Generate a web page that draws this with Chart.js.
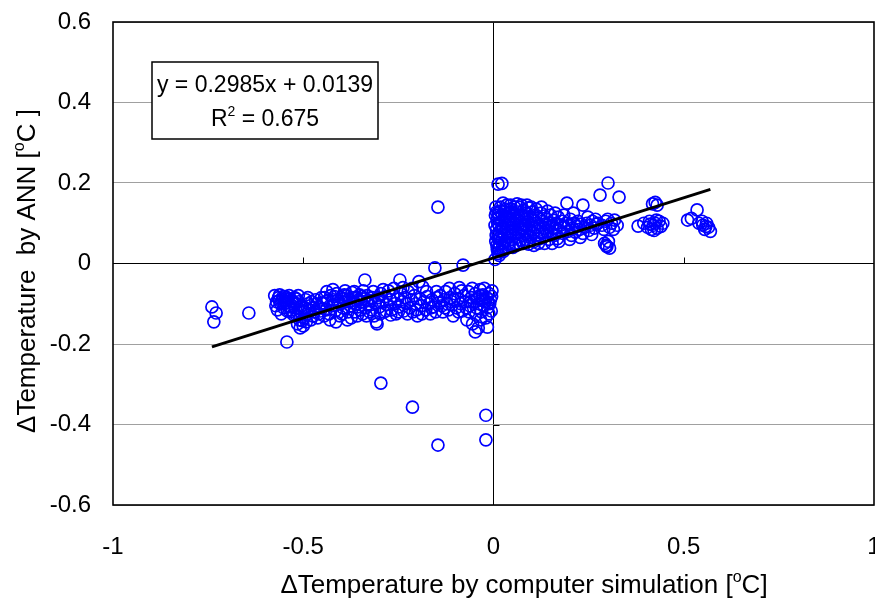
<!DOCTYPE html>
<html>
<head>
<meta charset="utf-8">
<script src="https://cdn.jsdelivr.net/npm/chart.js@4"></script>
<style>
  html, body { margin: 0; padding: 0; background: #fff; }
  #wrap { width: 875px; height: 601px; }
</style>
</head>
<body>
<div id="wrap"><canvas id="myChart" width="875" height="601"></canvas></div>
<script>
// tick labels
const xTickLabels = ['-1', '-0.5', '0', '0.5', '1'];
const yTickLabels = ['-0.6', '-0.4', '-0.2', '0', '0.2', '0.4', '0.6'];

// points, [simulation, ANN]
const farLeft = [
  [-0.740, -0.108], [-0.729, -0.123], [-0.735, -0.145], [-0.643, -0.123], [-0.543, -0.195]
];
const leftGroup = [
  [-0.575, -0.080], [-0.570, -0.095], [-0.565, -0.085], [-0.560, -0.100], [-0.555, -0.090],
  [-0.552, -0.110], [-0.548, -0.082], [-0.545, -0.098], [-0.540, -0.088], [-0.538, -0.105],
  [-0.535, -0.120], [-0.530, -0.092], [-0.527, -0.100], [-0.523, -0.085], [-0.520, -0.110],
  [-0.517, -0.130], [-0.515, -0.150], [-0.512, -0.095], [-0.510, -0.140], [-0.507, -0.120],
  [-0.505, -0.105], [-0.500, -0.155], [-0.497, -0.135], [-0.495, -0.110], [-0.492, -0.145],
  [-0.490, -0.125], [-0.487, -0.100], [-0.485, -0.115], [-0.480, -0.140], [-0.478, -0.095],
  [-0.475, -0.130], [-0.472, -0.110], [-0.470, -0.120], [-0.465, -0.100], [-0.462, -0.135],
  [-0.458, -0.108], [-0.455, -0.118], [-0.450, -0.098], [-0.568, -0.115], [-0.558, -0.125],
  [-0.542, -0.118], [-0.533, -0.108], [-0.525, -0.128], [-0.562, -0.078], [-0.553, -0.082],
  [-0.547, -0.092], [-0.537, -0.080], [-0.528, -0.095], [-0.518, -0.088], [-0.508, -0.160],
  [-0.503, -0.142], [-0.493, -0.090], [-0.572, -0.105], [-0.563, -0.092], [-0.550, -0.100],
  [-0.544, -0.085], [-0.532, -0.115], [-0.522, -0.098], [-0.513, -0.080], [-0.498, -0.120],
  [-0.488, -0.085], [-0.482, -0.105], [-0.468, -0.090], [-0.460, -0.125], [-0.452, -0.085]
];
const midGroup = [
  [-0.448, -0.100], [-0.444, -0.085], [-0.440, -0.115], [-0.436, -0.092], [-0.432, -0.125],
  [-0.428, -0.080], [-0.424, -0.105], [-0.420, -0.090], [-0.416, -0.118], [-0.412, -0.075],
  [-0.408, -0.098], [-0.404, -0.130], [-0.400, -0.085], [-0.396, -0.110], [-0.392, -0.078],
  [-0.388, -0.095], [-0.384, -0.140], [-0.380, -0.088], [-0.376, -0.105], [-0.372, -0.072],
  [-0.368, -0.098], [-0.364, -0.120], [-0.360, -0.085], [-0.356, -0.108], [-0.352, -0.078],
  [-0.348, -0.095], [-0.344, -0.125], [-0.340, -0.088], [-0.338, -0.041], [-0.336, -0.110],
  [-0.332, -0.080], [-0.328, -0.100], [-0.324, -0.092], [-0.320, -0.115], [-0.316, -0.070],
  [-0.312, -0.098], [-0.308, -0.145], [-0.306, -0.150], [-0.304, -0.085], [-0.300, -0.108],
  [-0.296, -0.075], [-0.292, -0.095], [-0.288, -0.120], [-0.284, -0.082], [-0.280, -0.102],
  [-0.276, -0.068], [-0.272, -0.090], [-0.268, -0.115], [-0.264, -0.080], [-0.260, -0.100],
  [-0.256, -0.125], [-0.252, -0.088], [-0.248, -0.108], [-0.246, -0.041], [-0.244, -0.075],
  [-0.240, -0.095], [-0.236, -0.118], [-0.232, -0.085], [-0.228, -0.100], [-0.224, -0.070],
  [-0.220, -0.110], [-0.216, -0.090], [-0.212, -0.120], [-0.208, -0.080], [-0.204, -0.100],
  [-0.200, -0.130], [-0.196, -0.045], [-0.193, -0.088], [-0.190, -0.105], [-0.186, -0.058],
  [-0.182, -0.095], [-0.178, -0.115], [-0.174, -0.082], [-0.170, -0.100], [-0.166, -0.125],
  [-0.162, -0.090], [-0.158, -0.108], [-0.154, -0.011], [-0.152, -0.120], [-0.148, -0.085],
  [-0.144, -0.098], [-0.418, -0.082], [-0.410, -0.092], [-0.402, -0.100], [-0.394, -0.088],
  [-0.386, -0.080], [-0.378, -0.095], [-0.370, -0.085], [-0.362, -0.100], [-0.354, -0.090],
  [-0.346, -0.082], [-0.330, -0.092], [-0.318, -0.085], [-0.302, -0.095], [-0.445, -0.130],
  [-0.438, -0.070], [-0.430, -0.140], [-0.422, -0.065], [-0.414, -0.145], [-0.398, -0.125],
  [-0.390, -0.068], [-0.382, -0.120], [-0.374, -0.135], [-0.366, -0.070], [-0.358, -0.130],
  [-0.350, -0.115], [-0.342, -0.068], [-0.334, -0.130], [-0.326, -0.120], [-0.314, -0.130],
  [-0.298, -0.125], [-0.290, -0.065], [-0.282, -0.118], [-0.270, -0.128], [-0.262, -0.062],
  [-0.250, -0.120], [-0.238, -0.060], [-0.226, -0.125], [-0.214, -0.062], [-0.202, -0.115],
  [-0.188, -0.125], [-0.176, -0.070], [-0.164, -0.110], [-0.150, -0.070]
];
const nearZeroNeg = [
  [-0.140, -0.080], [-0.136, -0.105], [-0.133, -0.120], [-0.130, -0.090], [-0.126, -0.070],
  [-0.122, -0.100], [-0.118, -0.115], [-0.114, -0.085], [-0.110, -0.095], [-0.106, -0.130],
  [-0.102, -0.075], [-0.098, -0.110], [-0.094, -0.088], [-0.090, -0.060], [-0.086, -0.100],
  [-0.082, -0.118], [-0.080, -0.004], [-0.078, -0.080], [-0.074, -0.095], [-0.070, -0.140],
  [-0.066, -0.070], [-0.062, -0.105], [-0.058, -0.085], [-0.055, -0.150], [-0.052, -0.095],
  [-0.048, -0.170], [-0.048, -0.075], [-0.045, -0.110], [-0.042, -0.088], [-0.040, -0.160],
  [-0.038, -0.100], [-0.035, -0.065], [-0.032, -0.120], [-0.030, -0.090], [-0.028, -0.078],
  [-0.025, -0.105], [-0.022, -0.095], [-0.020, -0.135], [-0.018, -0.085], [-0.016, -0.158],
  [-0.015, -0.110], [-0.012, -0.075], [-0.010, -0.100], [-0.008, -0.090], [-0.006, -0.118],
  [-0.005, -0.082], [-0.026, -0.092], [-0.014, -0.098], [-0.128, -0.110], [-0.116, -0.062],
  [-0.104, -0.090], [-0.092, -0.120], [-0.084, -0.068], [-0.072, -0.110], [-0.064, -0.120],
  [-0.056, -0.062], [-0.046, -0.128], [-0.036, -0.080], [-0.024, -0.062], [-0.012, -0.125],
  [-0.004, -0.068], [-0.034, -0.140], [-0.060, -0.095]
];
const outliers = [
  [-0.296, -0.297], [-0.213, -0.357], [-0.020, -0.377], [-0.146, -0.451], [-0.020, -0.438],
  [-0.146, 0.140]
];
const rightGroup = [
  [0.006, 0.055], [0.008, 0.085], [0.010, 0.110], [0.010, 0.035], [0.012, 0.070],
  [0.013, 0.125], [0.015, 0.095], [0.016, 0.050], [0.018, 0.140], [0.019, 0.080],
  [0.020, 0.105], [0.022, 0.060], [0.023, 0.120], [0.024, 0.040], [0.026, 0.090],
  [0.027, 0.130], [0.028, 0.070], [0.030, 0.100], [0.031, 0.055], [0.033, 0.115],
  [0.034, 0.085], [0.035, 0.145], [0.037, 0.065], [0.038, 0.095], [0.040, 0.125],
  [0.041, 0.045], [0.043, 0.080], [0.044, 0.108], [0.046, 0.135], [0.047, 0.060],
  [0.049, 0.090], [0.050, 0.118], [0.052, 0.072], [0.053, 0.100], [0.055, 0.140],
  [0.056, 0.050], [0.058, 0.085], [0.060, 0.112], [0.061, 0.065], [0.063, 0.128],
  [0.064, 0.095], [0.066, 0.075], [0.068, 0.105], [0.069, 0.140], [0.071, 0.058],
  [0.072, 0.088], [0.074, 0.120], [0.076, 0.070], [0.077, 0.098], [0.079, 0.132],
  [0.081, 0.080], [0.082, 0.110], [0.084, 0.060], [0.086, 0.093], [0.087, 0.125],
  [0.089, 0.072], [0.091, 0.103], [0.093, 0.138], [0.094, 0.085], [0.096, 0.115],
  [0.098, 0.065], [0.100, 0.095], [0.102, 0.128], [0.104, 0.078], [0.105, 0.108],
  [0.107, 0.055], [0.109, 0.090], [0.111, 0.120], [0.113, 0.070], [0.115, 0.100],
  [0.117, 0.082], [0.119, 0.112], [0.121, 0.062], [0.123, 0.095], [0.125, 0.125],
  [0.127, 0.075], [0.129, 0.105], [0.131, 0.088], [0.133, 0.118], [0.135, 0.068],
  [0.137, 0.098], [0.139, 0.080], [0.141, 0.110], [0.144, 0.090], [0.146, 0.060],
  [0.148, 0.100], [0.150, 0.120], [0.152, 0.078], [0.155, 0.095], [0.158, 0.108],
  [0.160, 0.070], [0.163, 0.088], [0.165, 0.100], [0.168, 0.062], [0.170, 0.115],
  [0.173, 0.082], [0.176, 0.095], [0.180, 0.105], [0.183, 0.075], [0.186, 0.090],
  [0.190, 0.100], [0.193, 0.150], [0.195, 0.080], [0.198, 0.095], [0.202, 0.110],
  [0.205, 0.070], [0.208, 0.088], [0.212, 0.100], [0.215, 0.078], [0.218, 0.092],
  [0.222, 0.105], [0.226, 0.085], [0.230, 0.098], [0.235, 0.145], [0.235, 0.075],
  [0.240, 0.090], [0.245, 0.100], [0.250, 0.082], [0.255, 0.095], [0.260, 0.105],
  [0.265, 0.088], [0.270, 0.098], [0.012, 0.025], [0.020, 0.030], [0.004, 0.010],
  [0.030, 0.040], [0.015, 0.020], [0.012, 0.197], [0.022, 0.199], [0.008, 0.128],
  [0.014, 0.062], [0.021, 0.088], [0.029, 0.118], [0.036, 0.075], [0.042, 0.098],
  [0.048, 0.128], [0.057, 0.108], [0.065, 0.118], [0.075, 0.088], [0.083, 0.098],
  [0.004, 0.095], [0.005, 0.120], [0.006, 0.140], [0.007, 0.070], [0.009, 0.045],
  [0.011, 0.100], [0.013, 0.040], [0.014, 0.115], [0.017, 0.130], [0.018, 0.065],
  [0.025, 0.150], [0.026, 0.030], [0.032, 0.135], [0.039, 0.050], [0.045, 0.145],
  [0.051, 0.040], [0.054, 0.125], [0.059, 0.045], [0.062, 0.148], [0.067, 0.050],
  [0.073, 0.145], [0.078, 0.050], [0.088, 0.145], [0.092, 0.048], [0.099, 0.140],
  [0.106, 0.045], [0.112, 0.135], [0.118, 0.050], [0.126, 0.140], [0.134, 0.050],
  [0.142, 0.130], [0.154, 0.050], [0.162, 0.125], [0.172, 0.055], [0.185, 0.120],
  [0.200, 0.060], [0.210, 0.125], [0.228, 0.065], [0.248, 0.115], [0.258, 0.072],
  [0.268, 0.110]
];
const farRight = [
  [0.280, 0.170], [0.301, 0.200], [0.330, 0.165], [0.285, 0.095], [0.295, 0.105],
  [0.305, 0.090], [0.310, 0.100], [0.318, 0.108], [0.325, 0.095], [0.290, 0.085],
  [0.300, 0.110], [0.315, 0.085], [0.275, 0.100], [0.292, 0.050], [0.298, 0.042],
  [0.302, 0.055], [0.296, 0.045], [0.305, 0.038], [0.380, 0.093], [0.395, 0.100],
  [0.405, 0.090], [0.410, 0.105], [0.415, 0.085], [0.420, 0.095], [0.425, 0.100],
  [0.430, 0.088], [0.435, 0.105], [0.440, 0.092], [0.412, 0.098], [0.422, 0.082],
  [0.428, 0.108], [0.418, 0.148], [0.425, 0.152], [0.430, 0.145], [0.445, 0.100],
  [0.510, 0.108], [0.520, 0.112], [0.535, 0.133], [0.540, 0.100], [0.550, 0.095],
  [0.555, 0.085], [0.560, 0.100], [0.565, 0.090], [0.570, 0.080], [0.558, 0.092],
  [0.548, 0.105]
];
// fitted line ends as drawn
const trendLine = [[-0.740, -0.207], [0.570, 0.184]];
const fitText = 'y = 0.2985x + 0.0139';
const r2Value = '0.675';

const toXY = (arr) => arr.map(p => ({ x: p[0], y: p[1] }));
const allPoints = [].concat(farLeft, leftGroup, midGroup, nearZeroNeg, outliers, rightGroup, farRight);

const FONT = '"Liberation Sans", Arial, sans-serif';

// text with a raised small "o" before "C"
function drawDegText(c, before, after, x, y, size) {
  const small = Math.round(size * 0.62);
  c.font = size + 'px ' + FONT;
  const w1 = c.measureText(before).width;
  const w2 = c.measureText(after).width;
  c.font = small + 'px ' + FONT;
  const wo = c.measureText('o').width;
  const sx = x - (w1 + wo + w2) / 2;
  c.textAlign = 'left';
  c.textBaseline = 'alphabetic';
  c.font = size + 'px ' + FONT;
  c.fillText(before, sx, y);
  c.font = small + 'px ' + FONT;
  c.fillText('o', sx + w1, y - size * 0.42);
  c.font = size + 'px ' + FONT;
  c.fillText(after, sx + w1 + wo, y);
}

const decorations = {
  id: 'decorations',
  beforeDatasetsDraw(chart) {
    const c = chart.ctx;
    const xs = chart.scales.x, ys = chart.scales.y;
    const x0 = xs.getPixelForValue(0), y0 = ys.getPixelForValue(0);
    c.save();
    c.strokeStyle = '#000';
    c.lineWidth = 1;
    c.beginPath();
    [-0.5, 0.5].forEach(v => {
      const px = Math.round(xs.getPixelForValue(v)) + 0.5;
      c.moveTo(px, y0); c.lineTo(px, y0 - 6);
    });
    [-0.4, -0.2, 0.2, 0.4].forEach(v => {
      const py = Math.round(ys.getPixelForValue(v)) + 0.5;
      c.moveTo(x0, py); c.lineTo(x0 + 6, py);
    });
    c.stroke();
    c.restore();
  },
  afterDatasetsDraw(chart) {
    const c = chart.ctx;
    const a = chart.chartArea;
    c.save();
    // plot frame
    c.strokeStyle = '#000';
    c.lineWidth = 1.6;
    c.strokeRect(a.left, a.top, a.right - a.left, a.bottom - a.top);
    // equation box
    c.fillStyle = '#fff';
    c.fillRect(152, 62, 226, 77);
    c.lineWidth = 1.5;
    c.strokeRect(152, 62, 226, 77);
    c.fillStyle = '#000';
    c.font = '23px ' + FONT;
    c.textAlign = 'center';
    c.textBaseline = 'alphabetic';
    c.fillText(fitText, 265, 92);
    const s1 = 'R', s3 = ' = ' + r2Value;
    const w1 = c.measureText(s1).width;
    const w3 = c.measureText(s3).width;
    c.font = '14px ' + FONT;
    const w2 = c.measureText('2').width;
    const sx = 265 - (w1 + w2 + w3) / 2;
    c.textAlign = 'left';
    c.font = '23px ' + FONT;
    c.fillText(s1, sx, 126);
    c.font = '14px ' + FONT;
    c.fillText('2', sx + w1, 116);
    c.font = '23px ' + FONT;
    c.fillText(s3, sx + w1 + w2, 126);
    // axis titles
    drawDegText(c, '\u0394Temperature by computer simulation [', 'C]', 524, 593, 26);
    c.translate(35, 271);
    c.rotate(-Math.PI / 2);
    drawDegText(c, '\u0394Temperature  by ANN [', 'C ]', 0, 0, 26);
    c.restore();
  }
};

const ctx = document.getElementById('myChart').getContext('2d');
const chart = new Chart(ctx, {
  type: 'scatter',
  data: {
    datasets: [{
      type: 'line',
      data: toXY(trendLine),
      borderColor: '#000',
      borderWidth: 3,
      pointRadius: 0,
      fill: false
    },
    {
      data: toXY(allPoints),
      pointStyle: 'circle',
      pointRadius: 6,
      pointBorderWidth: 1.7,
      borderColor: '#0000ff',
      backgroundColor: 'rgba(0,0,0,0)'
    }]
  },
  options: {
    responsive: false,
    animation: false,
    devicePixelRatio: 1,
    layout: { autoPadding: false, padding: { left: 0, right: 1, top: 22, bottom: 0 } },
    plugins: {
      legend: { display: false },
      tooltip: { enabled: false }
    },
    scales: {
      x: {
        type: 'linear',
        min: -1, max: 1,
        afterFit(s) { s.height = 96; s.paddingLeft = 0; s.paddingRight = 0; },
        afterBuildTicks(s) { s.ticks = xTickLabels.map(t => ({ value: parseFloat(t) })); },
        ticks: {
          callback: (v, i) => xTickLabels[i],
          color: '#000',
          font: { family: FONT, size: 24 },
          padding: 28,
          maxRotation: 0
        },
        grid: {
          drawTicks: false,
          lineWidth: 1,
          color: (c) => (c.tick && c.tick.value === 0) ? '#000' : 'rgba(0,0,0,0)'
        },
        border: { display: false }
      },
      y: {
        type: 'linear',
        min: -0.6, max: 0.6,
        afterFit(s) { s.width = 113; s.paddingTop = 0; s.paddingBottom = 0; },
        afterBuildTicks(s) { s.ticks = yTickLabels.map(t => ({ value: parseFloat(t) })); },
        ticks: {
          callback: (v, i) => yTickLabels[i],
          color: '#000',
          font: { family: FONT, size: 24 },
          padding: 22
        },
        grid: {
          drawTicks: false,
          lineWidth: 1,
          color: (c) => (c.tick && c.tick.value === 0) ? '#000' : '#a0a0a0'
        },
        border: { display: false }
      }
    }
  },
  plugins: [decorations]
});
</script>
</body>
</html>
